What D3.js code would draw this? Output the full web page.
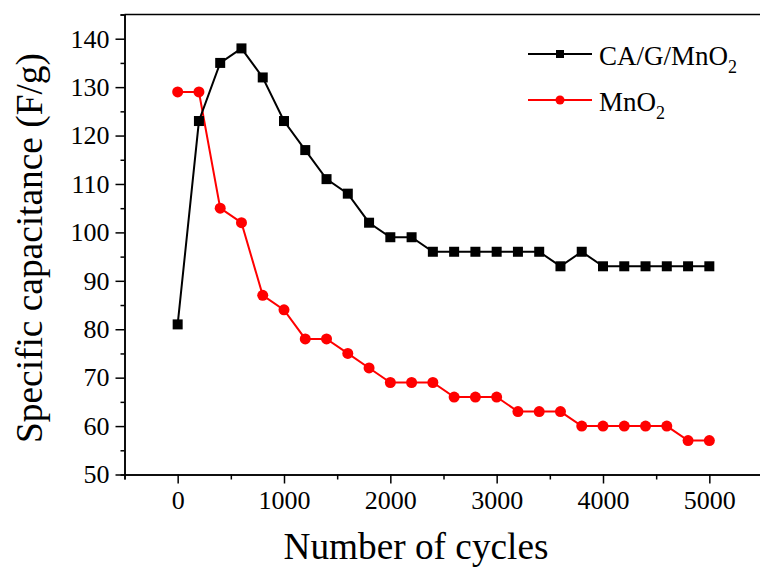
<!DOCTYPE html>
<html>
<head>
<meta charset="utf-8">
<script src="https://cdn.jsdelivr.net/npm/d3@7"></script>
<style>
  body { margin: 0; background: #fff; }
  svg { display: block; }
  .axis path, .axis line { stroke: #000; stroke-width: 1.5; }
</style>
</head>
<body>
<svg id="chart"></svg>
<script>
const cycles = [0, 200, 400, 600, 800, 1000, 1200, 1400, 1600, 1800, 2000, 2200, 2400,
  2600, 2800, 3000, 3200, 3400, 3600, 3800, 4000, 4200, 4400, 4600, 4800, 5000];
const caGMnO2 = [81, 123, 135, 138, 132, 123, 117, 111, 108, 102, 99, 99, 96,
  96, 96, 96, 96, 96, 93, 96, 93, 93, 93, 93, 93, 93];
const mnO2 = [129, 129, 105, 102, 87, 84, 78, 78, 75, 72, 69, 69, 69,
  66, 66, 66, 63, 63, 63, 60, 60, 60, 60, 60, 57, 57];
const xTicks = [0, 1000, 2000, 3000, 4000, 5000];
const xMinor = [-500, 500, 1500, 2500, 3500, 4500, 5500];
const yTicks = [50, 60, 70, 80, 90, 100, 110, 120, 130, 140];
const yMinor = [55, 65, 75, 85, 95, 105, 115, 125, 135, 145];

const SERIF = "'Liberation Serif', 'Times New Roman', serif";
const WIDTH = 760, HEIGHT = 567;
const svg = d3.select("#chart").attr("width", WIDTH).attr("height", HEIGHT)
  .attr("font-family", SERIF);

const x = d3.scaleLinear().domain([-500, 5500]).range([124.5, 762.5]);
const y = d3.scaleLinear().domain([50, 145]).range([474.5, 14.5]);

// fit a text's length to what the reference shows
function fitLength(sel, target) {
  const len = sel.node().getComputedTextLength();
  const fs = parseFloat(sel.attr("font-size"));
  sel.attr("font-size", fs * target / len);
}

// frame top line
svg.append("line")
  .attr("x1", x(-500)).attr("x2", x(5500))
  .attr("y1", y(145)).attr("y2", y(145))
  .attr("stroke", "#000").attr("stroke-width", 1.5);

// minor ticks
svg.append("g").attr("class", "axis")
  .attr("transform", `translate(0,${y(50)})`)
  .call(d3.axisBottom(x).tickValues(xMinor).tickSize(5).tickFormat(""));
svg.append("g").attr("class", "axis")
  .attr("transform", `translate(${x(-500)},0)`)
  .call(d3.axisLeft(y).tickValues(yMinor).tickSize(4).tickFormat(""));

// major axes
const gx = svg.append("g").attr("class", "axis")
  .attr("transform", `translate(0,${y(50)})`)
  .call(d3.axisBottom(x).tickValues(xTicks).tickFormat(d3.format("d"))
    .tickSize(9).tickPadding(7).tickSizeOuter(0));
const gy = svg.append("g").attr("class", "axis")
  .attr("transform", `translate(${x(-500)},0)`)
  .call(d3.axisLeft(y).tickValues(yTicks).tickFormat(d3.format("d"))
    .tickSize(9).tickPadding(6).tickSizeOuter(0));
[gx, gy].forEach(g => g.attr("font-family", SERIF).attr("font-size", 26)
  .selectAll("text").attr("fill", "#000"));

// axis titles
const xTitle = svg.append("text")
  .attr("x", 416).attr("y", 559)
  .attr("text-anchor", "middle")
  .attr("font-size", 35)
  .text("Number of cycles");
fitLength(xTitle, 265);
const yTitle = svg.append("text")
  .attr("transform", "translate(42,248) rotate(-90)")
  .attr("text-anchor", "middle")
  .attr("font-size", 36)
  .text("Specific capacitance (F/g)");
fitLength(yTitle, 390);

const line = d3.line().x((d, i) => x(cycles[i])).y(d => y(d));

// MnO2 series (red circles)
svg.append("path")
  .datum(mnO2)
  .attr("d", line)
  .attr("fill", "none").attr("stroke", "#ff0000").attr("stroke-width", 2);
svg.selectAll(".mno2")
  .data(mnO2)
  .enter()
  .append("circle")
  .attr("class", "mno2")
  .attr("cx", (d, i) => x(cycles[i]))
  .attr("cy", d => y(d))
  .attr("r", 5.5)
  .attr("fill", "#ff0000");

// CA/G/MnO2 series (black squares)
svg.append("path")
  .datum(caGMnO2)
  .attr("d", line)
  .attr("fill", "none").attr("stroke", "#000").attr("stroke-width", 2);
svg.selectAll(".cag")
  .data(caGMnO2)
  .enter()
  .append("rect")
  .attr("class", "cag")
  .attr("x", (d, i) => x(cycles[i]) - 5)
  .attr("y", d => y(d) - 5)
  .attr("width", 10).attr("height", 10)
  .attr("fill", "#000");

// legend
const legend = svg.append("g");
const rows = [
  { label: "CA/G/MnO", color: "#000", shape: "square", ly: 54 },
  { label: "MnO", color: "#ff0000", shape: "circle", ly: 100 }
];
rows.forEach((r) => {
  legend.append("line")
    .attr("x1", 528).attr("x2", 592)
    .attr("y1", r.ly).attr("y2", r.ly)
    .attr("stroke", r.color).attr("stroke-width", 2);
  if (r.shape === "square") {
    legend.append("rect")
      .attr("x", 556).attr("y", r.ly - 4)
      .attr("width", 8).attr("height", 8)
      .attr("fill", r.color);
  } else {
    legend.append("circle")
      .attr("cx", 560).attr("cy", r.ly)
      .attr("r", 4.5).attr("fill", r.color);
  }
  const t = legend.append("text")
    .attr("x", 599).attr("y", r.ly + 11)
    .attr("font-size", 27)
    .text(r.label);
  t.append("tspan")
    .attr("dy", 8)
    .attr("font-size", 18)
    .text("2");
});
</script>
</body>
</html>
